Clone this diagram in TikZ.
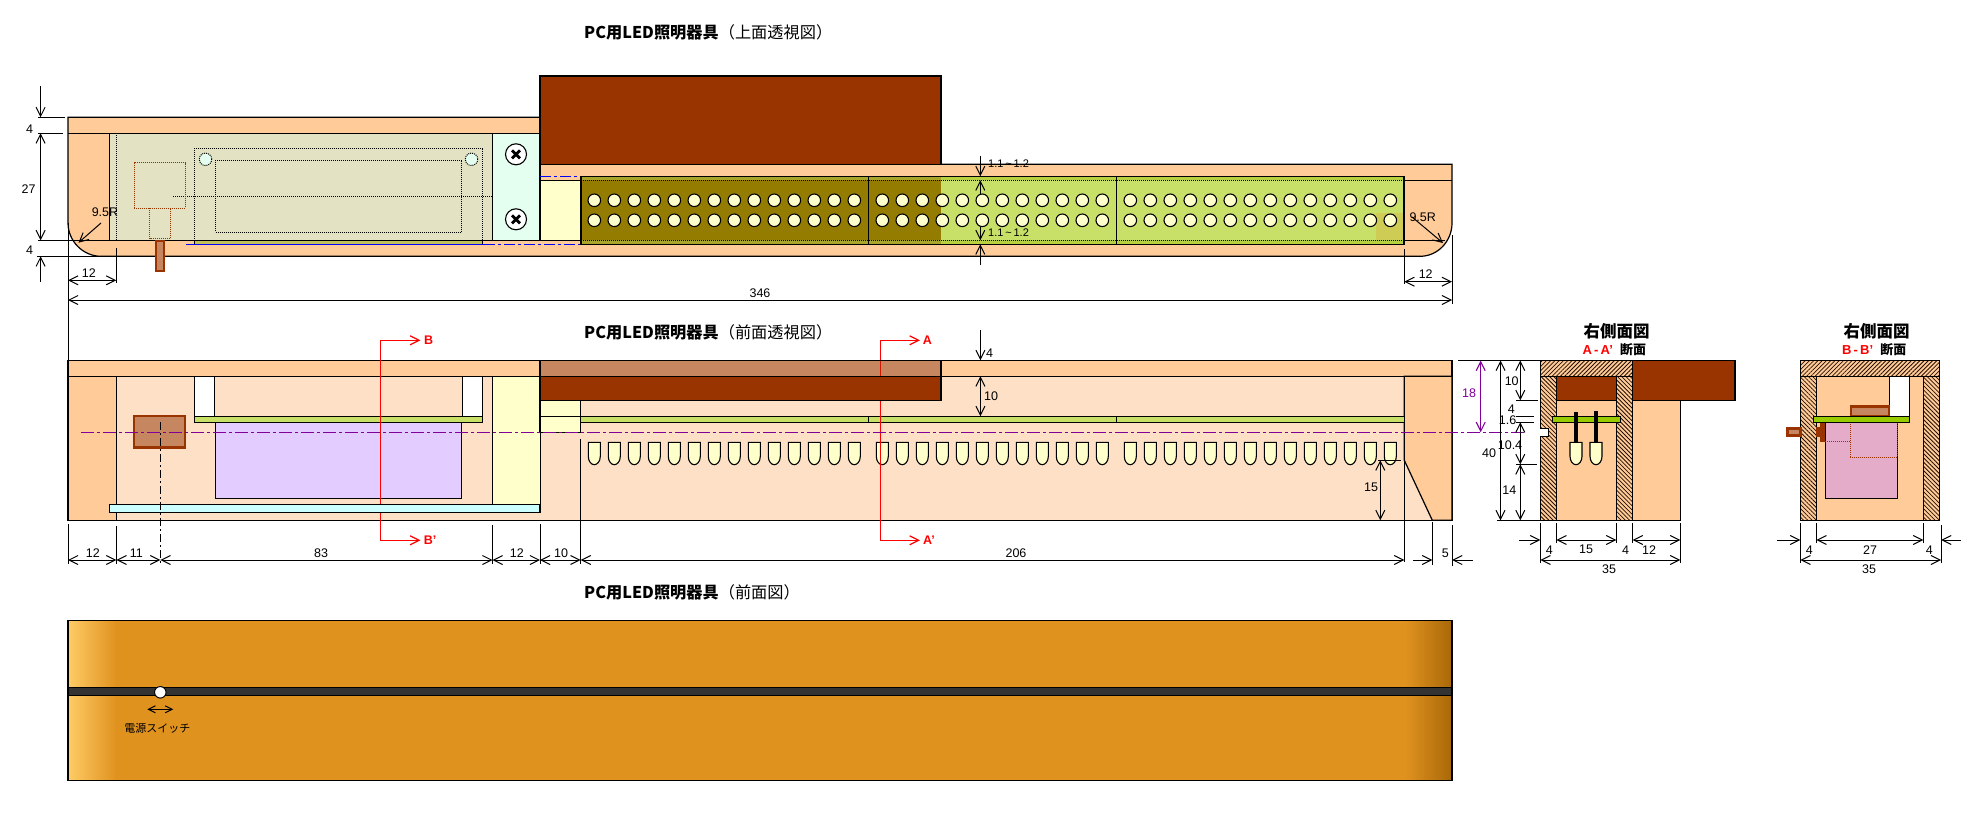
\documentclass[tikz,border=0pt]{standalone}
\usepackage{fontspec}
\setmainfont{Liberation Sans}
\newfontfamily\jp{Noto Sans CJK JP}
\usetikzlibrary{arrows.meta,patterns.meta}
\definecolor{peach}{HTML}{FFCC99}
\definecolor{peachlt}{HTML}{FDE0C6}
\definecolor{brownc}{HTML}{993300}
\definecolor{dithb}{HTML}{C68660}
\definecolor{lcream}{HTML}{FFFFCC}
\definecolor{oliveD}{HTML}{937C00}
\definecolor{oliveS}{HTML}{A8A52A}
\definecolor{greenL}{HTML}{C8E068}
\definecolor{greenS}{HTML}{B8D040}
\definecolor{greenB}{HTML}{99CC00}
\definecolor{purp}{HTML}{800099}
\definecolor{boardy}{HTML}{E3E2C2}
\definecolor{mintc}{HTML}{E4FFF0}
\definecolor{orangeM}{HTML}{E0921F}
\definecolor{patchc}{HTML}{CECC55}
\definecolor{lilac}{HTML}{E3CCFF}
\definecolor{cyanb}{HTML}{CCFFFF}
\definecolor{pinkb}{HTML}{E4ACC8}
\definecolor{gradL}{HTML}{FFCC66}
\definecolor{gradR}{HTML}{A86808}
\newcounter{lbl}
\tikzset{
  >={Straight Barb[length=9pt,width=9pt]},
  ln/.style={draw=black,line width=1.2pt},
  dim/.style={draw=black,line width=1pt},
  dots/.style={draw=black,line width=1pt,dash pattern=on 1pt off 1pt},
  lbl/.style={inner sep=0pt,font=\fontsize{12.5}{12.5}\selectfont},
  redl/.style={inner sep=0pt,text=red,font=\fontsize{12.5}{12.5}\selectfont\bfseries},
  secline/.style={draw=red,line width=1.2pt},
  blued/.style={draw=blue,line width=1.2pt,dash pattern=on 11pt off 3pt on 3pt off 3pt},
  purpd/.style={draw=purp,line width=1.2pt,dash pattern=on 13pt off 3pt on 3pt off 3pt},
  blkd/.style={draw=black,line width=1pt,dash pattern=on 8pt off 3pt on 2pt off 3pt},
  titlebox/.style={inner sep=0pt,anchor=west,font=\fontsize{16.2}{17}\selectfont\jp},
  led/.style={draw=black,line width=1.1pt,fill=lcream},
  hole/.style={draw=black,line width=1.1pt,fill=lcream},
  swf/.style={draw=brownc,line width=2.5pt,fill=dithb},
  hatchR/.style={pattern={Lines[angle=45,distance=3pt,line width=.8pt]},pattern color=black!75!brownc},
  hatchL/.style={pattern={Lines[angle=-45,distance=3pt,line width=.8pt]},pattern color=black!75!brownc},
}
\newcommand\lab[3]{\stepcounter{lbl}\node[lbl] (lab\arabic{lbl}) at (#1,#2) {#3};}
\newcommand\hatchbox[5]{\fill[peach] (#2,#3) rectangle (#4,#5);\path[#1] (#2,#3) rectangle (#4,#5);\draw[ln] (#2,#3) rectangle (#4,#5);}
\begin{document}
\begin{tikzpicture}[x=1pt,y=-1pt]
\useasboundingbox (0,0) rectangle (1981,821);
% ===== titles =====
\node[titlebox] (t1) at (584,32) {\bfseries PC用LED照明器具\mdseries （上面透視図）};
\node[titlebox] (t2) at (584,332) {\bfseries PC用LED照明器具\mdseries （前面透視図）};
\node[titlebox] (t3) at (584,592) {\bfseries PC用LED照明器具\mdseries （前面図）};
% ===== TOP VIEW =====
\path[ln,fill=peach] (68,117.3) -- (941,117.3) -- (941,164.3) -- (1452,164.3) -- (1452,223)
  .. controls (1452,241) and (1438,256.3) .. (1420,256.3) -- (101,256.3)
  .. controls (83,256.3) and (68,241) .. (68,223) -- cycle;
\filldraw[ln,fill=boardy] (109.5,133.3) rectangle (492.5,240.3);
\filldraw[ln,fill=mintc] (492.5,133.3) rectangle (540,240.3);
\draw[ln] (68,133.3) -- (540,133.3);
\draw[dim] (38,240.3) -- (540,240.3);
\draw[dots] (116.3,133.3) -- (116.3,240.3);
\draw[dots] (194.4,241) -- (194.4,148.3) -- (482.6,148.3) -- (482.6,241);
\draw[dots] (215.5,160.3) rectangle (461.5,232.3);
\draw[dots] (173,196.3) -- (492.5,196.3);
\filldraw[dots,fill=mintc] (205.5,159.3) circle[radius=6.2pt];
\filldraw[dots,fill=mintc] (471.5,159.3) circle[radius=6.2pt];
\draw[draw=brownc,line width=1pt,dash pattern=on 1pt off 1pt] (134,162.7) rectangle (185.6,208.3);
\draw[draw=brownc,line width=1pt,dash pattern=on 1pt off 1pt] (149.6,208.3) rectangle (170.7,238.7);
\filldraw[draw=brownc,line width=2pt,fill=dithb] (156.2,241) rectangle (163.8,270.5);
% left board edge
\filldraw[ln,fill=oliveS!70!lcream] (194.4,240.3) rectangle (482.6,244.3);
\draw[blue,line width=1.2pt] (186.4,244.3) -- (484,244.3);
\draw[blued] (484,244.3) -- (581,244.3);
% yellow block
\filldraw[ln,fill=lcream] (540,180.3) rectangle (581,240.3);
\draw[blued] (540,176.3) -- (581,176.3);
% screws
\foreach \sy [count=\si] in {154.3,219.3}{
  \node[circle,draw=black,line width=1.1pt,fill=white,minimum size=21pt,inner sep=0pt] (screw\si) at (516,\sy) {};
  \draw[black,line width=2.8pt] (512,\sy-4) -- (520,\sy+4) (520,\sy-4) -- (512,\sy+4);
}
% brown PC box top
\filldraw[ln,fill=brownc] (540,76) rectangle (941,164.3);
% LED board
\fill[greenL] (581,176.3) rectangle (1404,244.3);
\fill[oliveD] (581,180.3) rectangle (941,240.3);
\fill[oliveS] (581,176.3) rectangle (941,180.3);
\fill[oliveS] (581,240.3) rectangle (941,244.3);
\fill[greenS] (941,176.3) rectangle (1404,180.3);
\fill[greenS] (941,240.3) rectangle (1404,244.3);
\fill[patchc] (1376,213) rectangle (1404,240.3);
\draw[dots] (581,180.3) -- (1404,180.3) (581,240.3) -- (1404,240.3);
\draw[ln] (581,176.3) rectangle (1404,244.3);
\draw[ln] (868.3,176.3) -- (868.3,244.3) (1116.7,176.3) -- (1116.7,244.3);
\draw[ln] (1404,180.3) -- (1452,180.3) (1404,240.3) -- (1445,240.3);
\foreach \r in {200.3,220.3}{
  \foreach \n in {0,...,13}{\draw[hole] (594.3+20*\n,\r) circle[radius=6.3pt];}
  \foreach \n in {0,...,11}{\draw[hole] (882.3+20*\n,\r) circle[radius=6.3pt];}
  \foreach \n in {0,...,13}{\draw[hole] (1130.3+20*\n,\r) circle[radius=6.3pt];}
}
% top view dimensions
\draw[dim] (38,117.3) -- (65,117.3) (38,133.3) -- (63,133.3);
\draw[dim,->] (40.6,86) -- (40.6,117.3);
\draw[dim,<->] (40.6,133.3) -- (40.6,240.3);
\draw[dim,<-] (40.6,256.3) -- (40.6,281.7);
\draw[dim] (37,256.3) -- (101,256.3);
\lab{29.5}{129.3}{4}
\lab{28.7}{189.3}{27}
\lab{29.5}{250}{4}
\lab{105}{211.7}{9.5R}
\draw[dim,->] (101,223) -- (78.5,242.7);
\draw[dim] (68,223) -- (68,361);
\draw[dim] (116.3,248) -- (116.3,283);
\draw[dim,<->] (68,280.3) -- (116.3,280.3);
\lab{88.8}{273}{12}
\draw[dim,<->] (68,300) -- (1452,300);
\lab{760}{293}{346}
\draw[dim] (1452,235) -- (1452,304);
\draw[dim] (1404.3,249) -- (1404.3,284);
\draw[dim,<->] (1404.3,281.7) -- (1452,281.7);
\lab{1425.7}{273.7}{12}
\lab{1422.7}{217.3}{9.5R}
\draw[dim,->] (1412,217) -- (1443,243);
\draw[dim,->] (980.3,156) -- (980.3,176.3);
\draw[dim,<-] (980.3,180.3) -- (980.3,195);
\draw[dim,->] (980.3,227) -- (980.3,240.3);
\draw[dim,<-] (980.3,244.3) -- (980.3,264.7);
\node[lbl,anchor=west,font=\fontsize{11}{11}\selectfont] (gap1) at (988,163.5) {1.1\,\textasciitilde\,1.2};
\node[lbl,anchor=west,font=\fontsize{11}{11}\selectfont] (gap2) at (988,232.7) {1.1\,\textasciitilde\,1.2};
% ===== FRONT TRANSPARENT VIEW =====
\filldraw[ln,fill=peachlt] (68,360.3) rectangle (1452,520.3);
\filldraw[ln,fill=peach] (68,360.3) rectangle (540,376.3);
\filldraw[ln,fill=peach] (941,360.3) rectangle (1452,376.3);
\filldraw[ln,fill=peach] (68,376.3) rectangle (116.4,520.3);
\filldraw[ln,fill=peach] (1404.3,376.3) -- (1404.3,460.3) -- (1432.3,520.3) -- (1452,520.3) -- (1452,376.3) -- cycle;
\draw[dim] (1404.3,460.3) -- (1404.3,562);
% posts, board, battery box
\filldraw[ln,fill=white] (194.3,376.3) rectangle (214.6,416.3);
\filldraw[ln,fill=white] (462.5,376.3) rectangle (482.5,416.3);
\filldraw[ln,fill=lilac] (215.4,422.3) rectangle (461.8,498.3);
\filldraw[ln,fill=greenL] (194.3,416.3) rectangle (482.5,422.3);
\filldraw[dim,fill=lcream] (492.5,376.3) rectangle (540,504.3);
% yellow small block
\filldraw[ln,fill=lcream] (540,400.3) rectangle (580.7,432.3);
\draw[ln] (540,416.3) -- (580.7,416.3);
\draw[ln] (580.7,439) -- (580.7,563.7);
% LED strip
\filldraw[ln,fill=greenL] (580.7,416.3) rectangle (1404.3,422.3);
\draw[ln] (868.2,416.3) -- (868.2,422.3) (1116.7,416.3) -- (1116.7,422.3);
% LEDs
\foreach \n in {0,...,13}{\draw[led,shift={(594.3+20*\n,442.3)}] (-6,0) -- (-6,14) .. controls (-6,19) and (-3,22.4) .. (0,22.4) .. controls (3,22.4) and (6,19) .. (6,14) -- (6,0) -- cycle;}
\foreach \n in {0,...,11}{\draw[led,shift={(882.3+20*\n,442.3)}] (-6,0) -- (-6,14) .. controls (-6,19) and (-3,22.4) .. (0,22.4) .. controls (3,22.4) and (6,19) .. (6,14) -- (6,0) -- cycle;}
\foreach \n in {0,...,13}{\draw[led,shift={(1130.3+20*\n,442.3)}] (-6,0) -- (-6,14) .. controls (-6,19) and (-3,22.4) .. (0,22.4) .. controls (3,22.4) and (6,19) .. (6,14) -- (6,0) -- cycle;}
% section lines
\draw[secline,<->] (420.4,340.3) -- (380.4,340.3) -- (380.4,540.3) -- (420.4,540.3);
\draw[secline,<->] (920,340.3) -- (880.4,340.3) -- (880.4,540.3) -- (920,540.3);
\node[redl] (secB) at (428.6,340.3) {B};
\node[redl] (secBp) at (430,540.3) {B'};
\node[redl] (secA) at (927.5,340.3) {A};
\node[redl] (secAp) at (929,540.3) {A'};
% brown box
\filldraw[ln,fill=dithb] (540,360.3) rectangle (941,376.3);
\draw[draw=red!55!brownc,line width=1pt] (880.4,361) -- (880.4,376);
\filldraw[ln,fill=brownc] (540,376.3) rectangle (941,400.3);
% cyan bar
\filldraw[ln,fill=cyanb] (109.3,504.3) rectangle (540,512.3);
% switch
\filldraw[swf] (134.2,416.2) rectangle (184.9,447.5);
\draw[blkd] (160.4,422.3) -- (160.4,565);
% purple centre line
\draw[purpd] (81,432.3) -- (1525,432.3);
% front dimensions
\draw[dim] (68,524) -- (68,563.7) (116.4,526) -- (116.4,563.7) (492.5,525) -- (492.5,563.7) (540,524) -- (540,563.7) (1432.3,521.7) -- (1432.3,565) (1452,525) -- (1452,565.7);
\draw[dim,<->] (68,560) -- (116.4,560);
\draw[dim,<->] (116.4,560) -- (160.4,560);
\draw[dim,<->] (160.4,560) -- (492.5,560);
\draw[dim,<->] (492.5,560) -- (540,560);
\draw[dim,<->] (540,560) -- (580.7,560);
\draw[dim,<->] (580.7,560) -- (1404.3,560);
\draw[dim,->] (1413,560) -- (1432.3,560);
\draw[dim,<-] (1452,560) -- (1472.7,560);
\lab{92.9}{553.3}{12}
\lab{136.4}{553.3}{11}
\lab{321}{553.3}{83}
\lab{516.8}{553.3}{12}
\lab{561}{553.3}{10}
\lab{1016}{553.3}{206}
\lab{1445.3}{553.3}{5}
\draw[dim,->] (980.4,330) -- (980.4,360.3);
\lab{989.6}{353}{4}
\draw[dim,<->] (980.4,376.3) -- (980.4,416.3);
\lab{991}{396.3}{10}
\draw[dim] (1378,460.3) -- (1401,460.3);
\draw[dim,<->] (1380.3,460.3) -- (1380.3,520.3);
\lab{1371}{487.7}{15}
% side dimensions
\draw[dim] (1458,360.5) -- (1540,360.5) (1497,520.3) -- (1540,520.3);
\draw[draw=purp,line width=1.1pt,<->] (1480.7,360.5) -- (1480.7,432.3);
\node[lbl,text=purp] (d18) at (1469,393.3) {18};
\draw[dim,<->] (1500.5,360.5) -- (1500.5,520.3);
\lab{1489}{453.3}{40}
\draw[dim,<->] (1520.3,360.5) -- (1520.3,400.3);
\draw[dim,<->] (1520.3,422.3) -- (1520.3,464.3);
\draw[dim,<->] (1520.3,464.3) -- (1520.3,520.3);
\draw[dim] (1516,400.3) -- (1538,400.3) (1516,416.3) -- (1534,416.3) (1516,422.3) -- (1534,422.3) (1516,464.3) -- (1537,464.3);
\lab{1511.7}{381.3}{10}
\lab{1511.3}{408.7}{4}
\lab{1507.5}{419.7}{1.6}
\lab{1510}{445.3}{10.4}
\lab{1509.3}{490}{14}
% ===== SECTION A-A' =====
\fill[peach] (1540.3,376.3) rectangle (1680.3,520.3);
\filldraw[ln,fill=peach] (1632.7,400.3) rectangle (1680.3,520.3);
\filldraw[ln,fill=peach] (1556.3,376.3) rectangle (1616.3,520.3);
\hatchbox{hatchL}{1540.3}{376.3}{1556.3}{520.3}
\hatchbox{hatchL}{1616.3}{376.3}{1632.7}{520.3}
\hatchbox{hatchR}{1540.3}{360.7}{1632.7}{376.3}
\filldraw[ln,fill=brownc] (1556.3,376.3) rectangle (1616.3,400.3);
\filldraw[ln,fill=brownc] (1632.7,360.7) rectangle (1735,400.3);
\filldraw[ln,fill=white] (1540.3,428.3) -- (1548.7,428.3) -- (1548.7,436.7) -- (1540.3,436.7);
\fill[white] (1539.6,429) rectangle (1548,436);
\filldraw[ln,fill=greenB] (1552.3,416.3) rectangle (1620.3,422.3);
\fill[black] (1574,412) rectangle (1578,442.3);
\fill[black] (1594,411) rectangle (1598,442.3);
\foreach \lx in {1576,1596}{\draw[led,shift={(\lx,442.3)}] (-6,0) -- (-6,14) .. controls (-6,19) and (-3,22.4) .. (0,22.4) .. controls (3,22.4) and (6,19) .. (6,14) -- (6,0) -- cycle;}
\draw[dim] (1540.3,523) -- (1540.3,563) (1556.3,523) -- (1556.3,543) (1616.3,523) -- (1616.3,543) (1632.7,523) -- (1632.7,543) (1680.3,523) -- (1680.3,563);
\draw[dim,->] (1519,540) -- (1540.3,540);
\draw[dim,<->] (1556.3,540) -- (1616.3,540);
\draw[dim,<->] (1632.7,540) -- (1680.3,540);
\draw[dim,<->] (1540.3,560) -- (1680.3,560);
\lab{1549.3}{549.7}{4}
\lab{1586}{549.7}{15}
\lab{1625.7}{549.7}{4}
\lab{1649}{549.7}{12}
\lab{1609}{569.3}{35}
\node[inner sep=0pt,font=\fontsize{16.5}{17}\selectfont\jp\bfseries] (sa1) at (1616.7,331.7) {右側面図};
\node[inner sep=0pt,font=\fontsize{13}{13}\selectfont\bfseries] (sa2) at (1614.3,349.3) {\textcolor{red}{A\,-\,A'}\ \ {\jp 断面}};
% ===== SECTION B-B' =====
\filldraw[ln,fill=peach] (1816.3,376.3) rectangle (1923.3,520.3);
\hatchbox{hatchL}{1800.3}{376.3}{1816.3}{520.3}
\hatchbox{hatchL}{1923.3}{376.3}{1939.7}{520.3}
\hatchbox{hatchR}{1800.3}{360.7}{1939.7}{376.3}
\filldraw[ln,fill=white] (1889.3,376.3) rectangle (1909.7,416.3);
\filldraw[ln,fill=pinkb] (1825.3,422.3) rectangle (1897.7,498.3);
\filldraw[swf] (1851,406.5) rectangle (1889,416);
\fill[brownc] (1820.3,422.7) rectangle (1825.3,442.3);
\fill[brownc] (1816.3,427.3) rectangle (1821,436.7);
\draw[draw=brownc,line width=1pt,dash pattern=on 1pt off 1pt] (1850.3,422.3) -- (1850.3,457) -- (1897,457) -- (1897,422.3);
\draw[draw=brownc,line width=1pt,dash pattern=on 1pt off 1pt] (1825.3,441.7) -- (1850.3,441.7);
\filldraw[swf] (1787.5,428.5) rectangle (1800.3,435.5);
\filldraw[ln,fill=greenB] (1813.3,416.3) rectangle (1909.7,422.3);
\draw[dim] (1800.3,523) -- (1800.3,563) (1816.3,523) -- (1816.3,543) (1923.3,523) -- (1923.3,543) (1941,525) -- (1941,563);
\draw[dim,->] (1777,540) -- (1800.3,540);
\draw[dim,<->] (1816.3,540) -- (1923.3,540);
\draw[dim,<-] (1941,540) -- (1961,540);
\draw[dim,<->] (1800.3,560) -- (1941,560);
\lab{1809.3}{549.7}{4}
\lab{1870}{549.7}{27}
\lab{1929.3}{549.7}{4}
\lab{1869}{569.3}{35}
\node[inner sep=0pt,font=\fontsize{16.5}{17}\selectfont\jp\bfseries] (sb1) at (1876.7,331.7) {右側面図};
\node[inner sep=0pt,font=\fontsize{13}{13}\selectfont\bfseries] (sb2) at (1874.3,349.3) {\textcolor{red}{B\,-\,B'}\ \ {\jp 断面}};
% ===== FRONT VIEW =====
\fill[orangeM] (68,620.3) rectangle (1452,780.3);
\shade[left color=gradL,right color=orangeM] (68,620.3) rectangle (116,780.3);
\shade[left color=orangeM,right color=gradR] (1405,620.3) rectangle (1452,780.3);
\fill[black!80] (68,687.3) rectangle (1452,695.7);
\draw[ln] (68,620.3) rectangle (1452,780.3);
\draw[ln] (68,687.3) -- (1452,687.3) (68,695.7) -- (1452,695.7);
\node[circle,draw=black,line width=1pt,fill=white,minimum size=11.5pt,inner sep=0pt] (pwr) at (160.3,692.3) {};
\draw[dim,<->,>={Straight Barb[length=7pt,width=7pt]}] (147.3,709.3) -- (173.3,709.3);
\node[inner sep=0pt,font=\fontsize{11}{11}\selectfont\jp] (pwrt) at (157.3,728) {電源スイッチ};
\end{tikzpicture}
\end{document}
